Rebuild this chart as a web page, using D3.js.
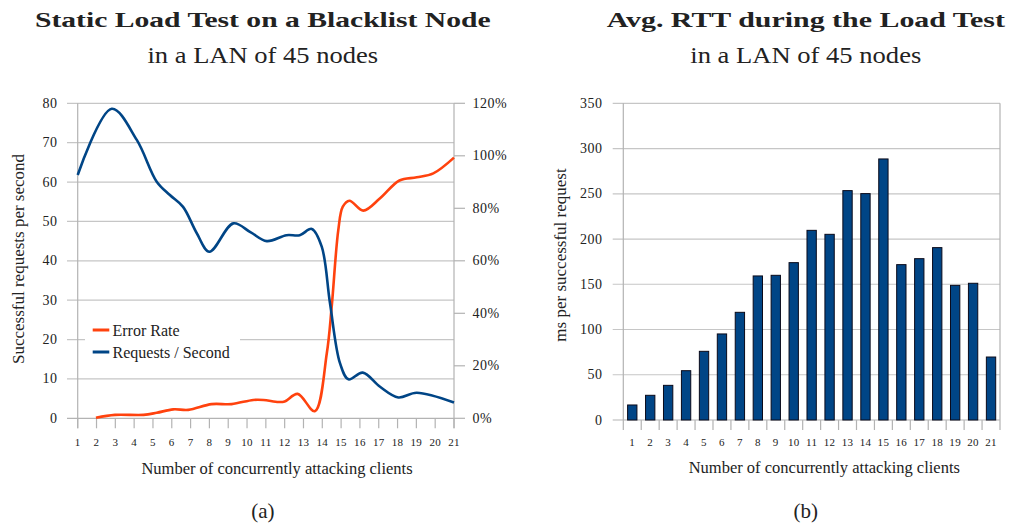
<!DOCTYPE html>
<html><head><meta charset="utf-8">
<script src="https://cdn.jsdelivr.net/npm/d3@7"></script>
<style>
body{margin:0;background:#fff;}
svg{display:block;}
text{font-family:"Liberation Serif","Times New Roman",serif;fill:#222;}
</style></head>
<body>
<svg id="c" width="1009" height="524"></svg>
<script>
// ---------- data ----------
const clientTicks = d3.range(1, 22);
const leftTicks = [0,10,20,30,40,50,60,70,80];
const rightTicks = [0,20,40,60,80,100,120];
const rttTicks = [0,50,100,150,200,250,300,350];

// Requests / Second (x = clients, y = requests per second)
const reqX = [1, 2.81, 4.14, 5.2, 5.9, 6.6, 7.33, 8.0, 9.27, 10.2, 11.05, 12.1, 12.8, 13.44, 13.97, 14.41, 14.94, 15.39, 16.15, 17.07, 18.04, 19.02, 21];
const reqY = [61.8, 78.6, 70.7, 60.1, 56.7, 53.7, 47.0, 42.3, 49.5, 47.2, 45.0, 46.5, 46.5, 48.1, 43.6, 29.2, 14.0, 9.9, 11.6, 8.0, 5.3, 6.5, 4.0];

// Error Rate (x = clients, y = percent)
const errX = [1.97, 2.98, 4.5, 5.2, 6.08, 6.88, 8.12, 9.18, 10.33, 10.87, 11.67, 12.0, 12.69, 13.6, 14.24, 14.5, 14.85, 15.09, 15.44, 16.18, 17.07, 18.1, 19.02, 19.9, 21];
const errY = [0.2, 1.3, 1.3, 2.1, 3.4, 3.2, 5.4, 5.4, 7.0, 7.0, 6.2, 6.4, 9.3, 2.7, 24.8, 42.5, 71.7, 80.6, 82.9, 79.1, 83.8, 90.6, 91.8, 93.3, 99.3];

// Avg RTT (ms per successful request)
const rttValues = [16.6, 27.3, 38.3, 54.5, 75.9, 95.1, 119, 159.2, 159.9, 173.9, 209.6, 205.2, 253.5, 250.2, 288.5, 171.7, 178.3, 190.5, 148.8, 151.1, 69.6];

const seriesNames = ["Error Rate", "Requests / Second"];

// ---------- styles ----------
const BLUE = "#004586", RED = "#ff420e", GRID = "#c6c6c6", AXIS = "#b3b3b3";

const svg = d3.select("#c");

// ================= LEFT CHART =================
const xL = d3.scaleLinear().domain([1, 21]).range([77.7, 454]);
const yL = d3.scaleLinear().domain([0, 80]).range([418.3, 103.3]);
const yR = d3.scaleLinear().domain([0, 120]).range([418.3, 103.3]);
const gL = svg.append("g");

gL.selectAll("line.grid").data(leftTicks).join("line")
  .attr("x1", 67).attr("x2", xL(21)).attr("y1", d => yL(d)).attr("y2", d => yL(d))
  .attr("stroke", d => d === 0 ? AXIS : GRID).attr("stroke-width", 1.2);
gL.selectAll("line.rt").data(rightTicks).join("line")
  .attr("x1", xL(21)).attr("x2", xL(21) + 11).attr("y1", d => yR(d)).attr("y2", d => yR(d))
  .attr("stroke", AXIS).attr("stroke-width", 1.2);
gL.append("line").attr("x1", xL(1)).attr("x2", xL(1)).attr("y1", yL(80)).attr("y2", yL(0) + 10).attr("stroke", AXIS).attr("stroke-width", 1.2);
gL.append("line").attr("x1", xL(21)).attr("x2", xL(21)).attr("y1", yL(80)).attr("y2", yL(0) + 10).attr("stroke", AXIS).attr("stroke-width", 1.2);
gL.selectAll("line.xt").data(clientTicks).join("line")
  .attr("x1", d => xL(d)).attr("x2", d => xL(d)).attr("y1", yL(0)).attr("y2", yL(0) + 10)
  .attr("stroke", AXIS).attr("stroke-width", 1.2);
gL.selectAll("text.yl").data(leftTicks).join("text")
  .attr("x", 57.5).attr("y", d => yL(d) + 4.5).attr("text-anchor", "end")
  .attr("font-size", 14).attr("letter-spacing", 0.5).text(d => d);
gL.selectAll("text.yr").data(rightTicks).join("text")
  .attr("x", 472.5).attr("y", d => yR(d) + 4.5)
  .attr("font-size", 14).attr("letter-spacing", 0.5).text(d => d + "%");
gL.selectAll("text.xl").data(clientTicks).join("text")
  .attr("x", d => xL(d)).attr("y", 445.5).attr("text-anchor", "middle")
  .attr("font-size", 11).attr("letter-spacing", 0.3).text(d => d);
gL.append("text").attr("x", 277).attr("y", 474).attr("text-anchor", "middle")
  .attr("font-size", 16.5).text("Number of concurrently attacking clients");
gL.append("text").attr("transform", "translate(24,259) rotate(-90)").attr("text-anchor", "middle")
  .attr("font-size", 17).text("Successful requests per second");

const reqData = reqX.map((x, i) => [x, reqY[i]]);
const errData = errX.map((x, i) => [x, errY[i]]);
gL.append("path").datum(errData)
  .attr("d", d3.line().x(d => xL(d[0])).y(d => yR(d[1])).curve(d3.curveCatmullRom.alpha(0.5)))
  .attr("fill", "none").attr("stroke", RED).attr("stroke-width", 2.6);
gL.append("path").datum(reqData)
  .attr("d", d3.line().x(d => xL(d[0])).y(d => yL(d[1])).curve(d3.curveCatmullRom.alpha(0.5)))
  .attr("fill", "none").attr("stroke", BLUE).attr("stroke-width", 2.6);

const leg = gL.append("g");
leg.append("rect").attr("x", 85).attr("y", 321).attr("width", 155).attr("height", 41).attr("fill", "#fff");
[RED, BLUE].forEach((c, i) => {
  leg.append("line").attr("x1", 92.7).attr("x2", 109.3).attr("y1", 330 + i * 22).attr("y2", 330 + i * 22)
    .attr("stroke", c).attr("stroke-width", 3);
  leg.append("text").attr("x", 112.5).attr("y", 335.8 + i * 22).attr("font-size", 16).text(seriesNames[i]);
});

// ================= RIGHT CHART =================
const xB = d3.scaleBand().domain(clientTicks).range([623.3, 1000]).paddingInner(0.48).paddingOuter(0.24);
const yB = d3.scaleLinear().domain([0, 350]).range([420, 103.3]);
const gR = svg.append("g");
gR.selectAll("line.grid").data(rttTicks).join("line")
  .attr("x1", 612.7).attr("x2", 1000).attr("y1", d => yB(d)).attr("y2", d => yB(d))
  .attr("stroke", d => d === 0 ? AXIS : GRID).attr("stroke-width", 1.2);
gR.append("line").attr("x1", 623.3).attr("x2", 623.3).attr("y1", yB(350)).attr("y2", yB(0) + 10).attr("stroke", AXIS).attr("stroke-width", 1.2);
gR.append("line").attr("x1", 1000).attr("x2", 1000).attr("y1", yB(350)).attr("y2", yB(0) + 10).attr("stroke", AXIS).attr("stroke-width", 1.2);
const step = xB.step();
gR.selectAll("line.xt").data(clientTicks.slice(1)).join("line")
  .attr("x1", d => xB(d) - step * 0.24).attr("x2", d => xB(d) - step * 0.24)
  .attr("y1", yB(0)).attr("y2", yB(0) + 10).attr("stroke", AXIS).attr("stroke-width", 1.2);
gR.selectAll("rect.bar").data(rttValues).join("rect")
  .attr("x", (d, i) => xB(clientTicks[i])).attr("width", xB.bandwidth())
  .attr("y", d => yB(d)).attr("height", d => yB(0) - yB(d))
  .attr("fill", BLUE).attr("stroke", "#0a0a1a").attr("stroke-width", 1);
gR.selectAll("text.yl").data(rttTicks).join("text")
  .attr("x", 602.5).attr("y", d => yB(d) + 4.5).attr("text-anchor", "end")
  .attr("font-size", 14).attr("letter-spacing", 0.5).text(d => d);
gR.selectAll("text.xl").data(clientTicks).join("text")
  .attr("x", d => xB(d) + xB.bandwidth() / 2).attr("y", 445.5).attr("text-anchor", "middle")
  .attr("font-size", 11).attr("letter-spacing", 0.3).text(d => d);
gR.append("text").attr("x", 824.3).attr("y", 473).attr("text-anchor", "middle")
  .attr("font-size", 16.5).text("Number of concurrently attacking clients");
gR.append("text").attr("transform", "translate(566,255) rotate(-90)").attr("text-anchor", "middle")
  .attr("font-size", 17).text("ms per successful request");

// ================= TITLES =================
const titles = [
  {x: 262.8, t: "Static Load Test on a Blacklist Node", w: 455.7, s: "in a LAN of 45 nodes", sw: 230.7, cap: "(a)"},
  {x: 805.8, t: "Avg. RTT during the Load Test", w: 398.3, s: "in a LAN of 45 nodes", sw: 231, cap: "(b)"}
];
titles.forEach(d => {
  svg.append("text").attr("x", d.x).attr("y", 27.3).attr("text-anchor", "middle")
    .attr("font-size", 21).attr("font-weight", "bold").attr("fill", "#111")
    .attr("textLength", d.w).attr("lengthAdjust", "spacingAndGlyphs").text(d.t);
  svg.append("text").attr("x", d.x).attr("y", 63.3).attr("text-anchor", "middle")
    .attr("font-size", 22.5).attr("fill", "#111")
    .attr("textLength", d.sw).attr("lengthAdjust", "spacingAndGlyphs").text(d.s);
  svg.append("text").attr("x", d.x).attr("y", 518).attr("text-anchor", "middle")
    .attr("font-size", 21).attr("fill", "#111").text(d.cap);
});
</script>
</body></html>
